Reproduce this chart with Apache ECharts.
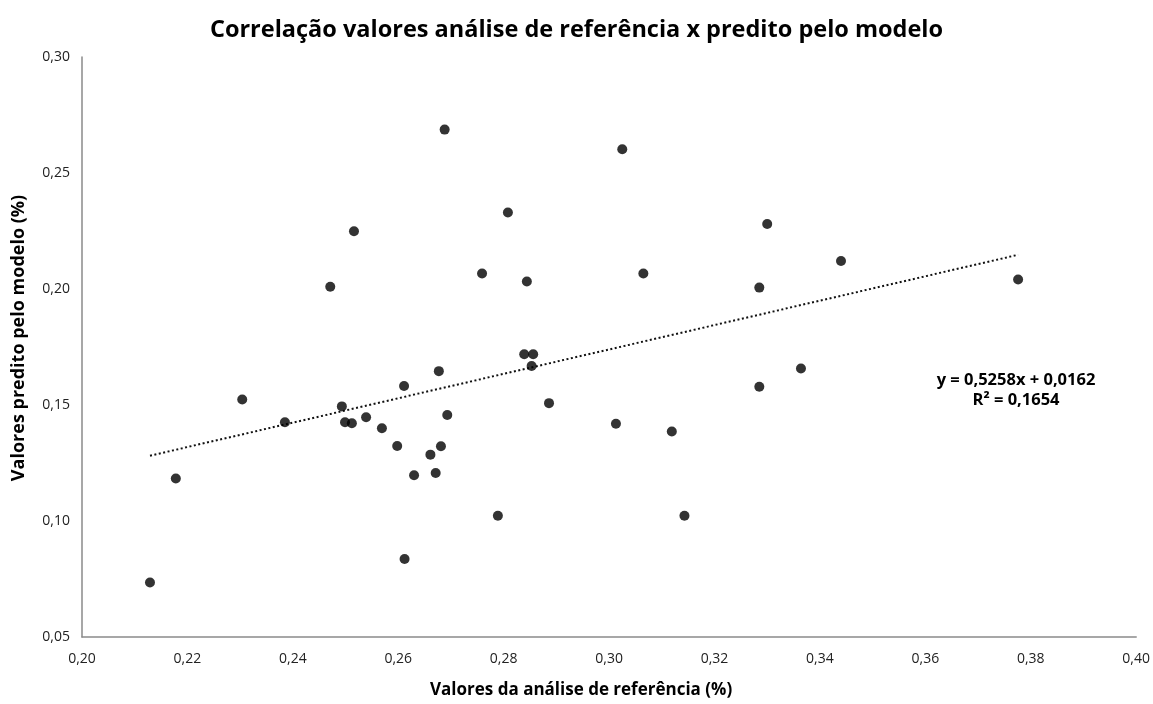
<!DOCTYPE html>
<html><head><meta charset="utf-8">
<script src="https://cdn.jsdelivr.net/npm/echarts@6/dist/echarts.min.js"></script>
<style>html,body{margin:0;padding:0;background:#fff}#c{width:1153px;height:704px}</style>
</head><body><div id="c"></div>
<script>
const refValues = [0.2129,0.2178,0.2304,0.2385,0.2471,0.2493,0.2499,0.2512,0.2516,0.2539,0.2569,0.2598,0.2611,0.2612,0.2630,0.2661,0.2671,0.2677,0.2681,0.2693,0.2688,0.2789,0.2808,0.2759,0.2844,0.3025,0.3065,0.2839,0.2856,0.2853,0.2886,0.3013,0.3119,0.3143,0.3300,0.3285,0.3285,0.3364,0.3440,0.3776];
const predValues = [0.0735,0.1183,0.1524,0.1426,0.2010,0.1494,0.1426,0.1421,0.2249,0.1447,0.1400,0.1323,0.1582,0.0836,0.1197,0.1286,0.1207,0.1646,0.1322,0.1457,0.2687,0.1023,0.2330,0.2067,0.2032,0.2602,0.2067,0.1719,0.1719,0.1668,0.1508,0.1419,0.1386,0.1023,0.2280,0.2006,0.1579,0.1657,0.2121,0.2041];
const slope = 0.5258, intercept = 0.0162;
const eqLines = ['y = 0,5258x + 0,0162', 'R² = 0,1654'];
const title = 'Correlação valores análise de referência x predito pelo modelo';
const xName = 'Valores da análise de referência (%)';
const yName = 'Valores predito pelo modelo (%)';

const pts = refValues.map((x,i)=>[x,predValues[i]]);
const xmin = Math.min(...refValues), xmax = Math.max(...refValues);
const trend = [[xmin, slope*xmin+intercept],[xmax, slope*xmax+intercept]];
const fmt = v => v.toFixed(2).replace('.', ',');
const FONT = '"Open Sans", "Noto Sans", sans-serif';

const chart = echarts.init(document.getElementById('c'));
chart.setOption({
  animation:false,
  backgroundColor:'#fff',
  title:{text:title,left:'center',top:13,textStyle:{fontFamily:FONT,fontWeight:'bold',fontSize:23.5,color:'#000'}},
  grid:{left:82,right:15,top:57,bottom:62,containLabel:false},
  xAxis:{type:'value',min:0.2,max:0.4,interval:0.02,
    name:xName,nameLocation:'middle',nameGap:45,
    nameTextStyle:{fontFamily:FONT,fontWeight:'bold',fontSize:17,color:'#000',padding:[0,56,0,0]},
    axisLine:{show:true,lineStyle:{color:'#8a8a8a',width:1.5}},axisTick:{show:false},splitLine:{show:false},
    axisLabel:{formatter:fmt,fontFamily:FONT,fontSize:14,color:'#222',margin:15}},
  yAxis:{type:'value',min:0.05,max:0.30,interval:0.05,
    name:yName,nameLocation:'middle',nameGap:54,
    nameTextStyle:{fontFamily:FONT,fontWeight:'bold',fontSize:18,color:'#000',padding:[0,0,0,18]},
    axisLine:{show:true,lineStyle:{color:'#8a8a8a',width:1.5}},axisTick:{show:false},splitLine:{show:false},
    axisLabel:{formatter:fmt,fontFamily:FONT,fontSize:14,color:'#222',margin:12}},
  series:[
    {type:'line',data:trend,symbol:'none',lineStyle:{color:'#111',width:2,type:[2,2.5]},z:1},
    {type:'scatter',data:pts,symbolSize:10,itemStyle:{color:'#000'},z:2}
  ],
  graphic:[{type:'text',x:1016,y:370,style:{text:eqLines.join('\n'),fontFamily:FONT,fontWeight:'bold',fontSize:16.5,lineHeight:20,fill:'#000',align:'center',verticalAlign:'top'}}]
});
</script></body></html>
